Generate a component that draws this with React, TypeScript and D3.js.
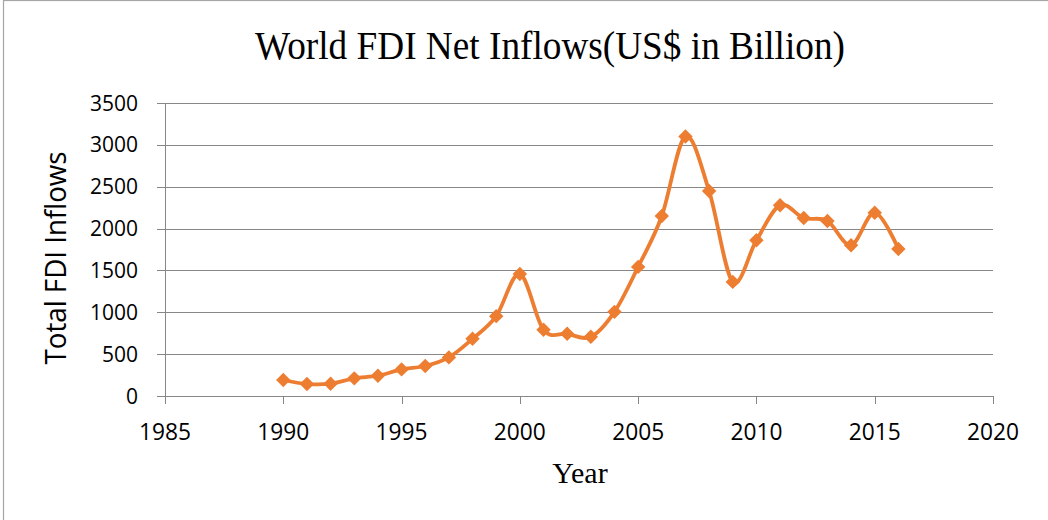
import React from "react";
import * as d3 from "d3";

const years = [1990,1991,1992,1993,1994,1995,1996,1997,1998,1999,2000,2001,2002,2003,2004,2005,2006,2007,2008,2009,2010,2011,2012,2013,2014,2015,2016];
const inflows = [191,143,147,211,242,318,358,461,683,954,1458,791,743,707,1005,1542,2150,3100,2448,1363,1860,2278,2126,2091,1801,2190,1757];
const xTicks = [1985,1990,1995,2000,2005,2010,2015,2020];
const yTicks = [0,500,1000,1500,2000,2500,3000,3500];
const title = "World FDI Net Inflows(US$ in Billion)";
const xTitle = "Year";
const yTitle = "Total FDI Inflows";

const W = 1048, H = 520;
const M = { left: 165, right: 993, top: 103, bottom: 396 };

export default function App() {
  const x = d3.scaleLinear().domain([1985, 2020]).range([M.left, M.right]);
  const y = d3.scaleLinear().domain([0, 3500]).range([M.bottom, M.top]);
  const pts = years.map((yr, i) => [yr, inflows[i]] as [number, number]);
  const line = d3.line<[number, number]>()
    .x(d => x(d[0]))
    .y(d => y(d[1]))
    .curve(d3.curveCatmullRom.alpha(0));
  const sym = d3.symbol().type(d3.symbolSquare).size(104)();
  const orange = "#ED7D31";
  const grid = "#878787";
  const sans = "'Open Sans', 'Noto Sans', sans-serif";
  const serif = "'Liberation Serif', 'Times New Roman', serif";

  return (
    <svg width={W} height={H} style={{ position: "absolute", left: 0, top: 0, background: "#fff" }}>
      <rect x={3.5} y={0.5} width={W + 10} height={H + 10} fill="#fff" stroke="#a6a6a6" strokeWidth={1.2} />
      <text x={550} y={59} textAnchor="middle" fontFamily={serif} fontSize={39} textLength={590} lengthAdjust="spacingAndGlyphs" fill="#000">{title}</text>
      {yTicks.map(t => (
        <g key={"y" + t}>
          <line x1={M.left - 8} x2={M.right} y1={Math.round(y(t)) + 0.5} y2={Math.round(y(t)) + 0.5} stroke={grid} strokeWidth={1} />
          <text x={138} y={y(t) + 7.5} textAnchor="end" fontFamily={sans} fontSize={21} fill="#000">{t}</text>
        </g>
      ))}
      <line x1={M.left + 0.5} x2={M.left + 0.5} y1={M.top} y2={M.bottom + 8} stroke={grid} strokeWidth={1} />
      {xTicks.map(t => (
        <g key={"x" + t}>
          <line x1={Math.round(x(t)) + 0.5} x2={Math.round(x(t)) + 0.5} y1={M.bottom} y2={M.bottom + 8} stroke={grid} strokeWidth={1} />
          <text x={x(t)} y={440} textAnchor="middle" fontFamily={sans} fontSize={24} textLength={52} lengthAdjust="spacingAndGlyphs" fill="#000">{t}</text>
        </g>
      ))}
      <text x={580} y={483} textAnchor="middle" fontFamily={serif} fontSize={30} fill="#000">{xTitle}</text>
      <text transform={`translate(66,258) rotate(-90)`} textAnchor="middle" fontFamily={sans} fontSize={29} textLength={213} lengthAdjust="spacingAndGlyphs" fill="#000">{yTitle}</text>
      <path d={line(pts) || ""} fill="none" stroke={orange} strokeWidth={3.8} strokeLinejoin="round" />
      {pts.map((p, i) => (
        <path key={"m" + i} d={sym || ""} transform={`translate(${x(p[0])},${y(p[1])}) rotate(45)`} fill={orange} />
      ))}
    </svg>
  );
}
